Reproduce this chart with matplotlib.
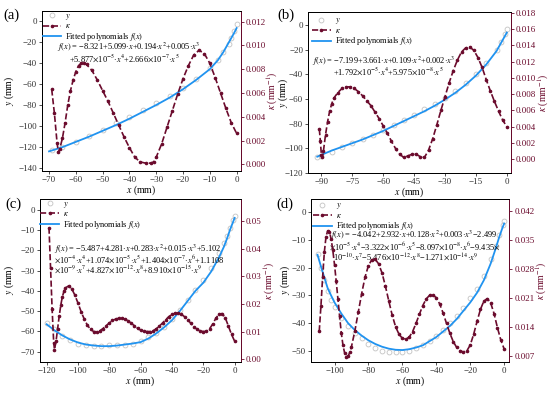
import matplotlib

matplotlib.use("Agg")
import matplotlib.pyplot as plt
from matplotlib.lines import Line2D
from matplotlib.ticker import FormatStrFormatter

plt.rcParams["font.family"] = ["Liberation Serif", "DejaVu Serif"]
plt.rcParams["mathtext.fontset"] = "stix"
plt.rcParams["font.size"] = 7
plt.rcParams["axes.linewidth"] = 0.7

KAPPA_COLOR = "#6b0b2d"
FIT_COLOR = "#2093f0"
DATA_COLOR = "#c2c2c2"

# ---- panel (a) ----
a_x = [-69, -65, -60, -55, -50, -45, -40, -35, -30, -25, -20, -15, -10, -7, -5, -3, -2, -1, 0]
a_y = [-123, -120, -115, -109.5, -103.5, -97.5, -91, -84.5, -78, -71, -63.5, -55, -44.5, -37, -30,
       -22, -16, -10, -3]
a_fit_x = [-70, -65, -60, -55, -50, -45, -40, -35, -30, -25, -20, -15, -10, -7, -5, -3, -1, 0]
a_fit_y = [-124, -120, -115, -110, -104.5, -99, -93, -86.5, -80, -73, -65, -56, -46, -37.5, -30,
           -21, -12, -7]
a_kx = [-69, -68, -67, -66.5, -66, -65, -64, -63, -62, -61, -60, -59, -58, -57, -56, -54, -52, -50,
        -48, -46, -44, -42, -40, -38, -36, -34, -32, -31, -30, -28, -26, -24, -22, -20, -18, -16,
        -14, -12, -10, -8, -6, -4, -2, 0]
a_k = [0.0063, 0.0043, 0.0018, 0.0010, 0.0013, 0.0022, 0.0035, 0.0050, 0.0062, 0.0071, 0.0078,
       0.0083, 0.0085, 0.0085, 0.0084, 0.0079, 0.0071, 0.0062, 0.0053, 0.0043, 0.0033, 0.0023,
       0.0014, 0.0006, 0.0002, 0.0001, 0.0001, 0.0002, 0.0006, 0.0017, 0.0031, 0.0045, 0.0059,
       0.0072, 0.0083, 0.0092, 0.0096, 0.0093, 0.0085, 0.0073, 0.0060, 0.0047, 0.0035, 0.0026]
a_formula = [
    r"$f(x)$ = −8.321+5.099$\cdot x$+0.194$\cdot x^2$+0.005$\cdot x^3$",
    r"+5.877$\times$10$^{-5}$$\cdot x^4$+2.666$\times$10$^{-7}$$\cdot x^5$",
]

# ---- panel (b) ----
b_x = [-92, -90, -85, -80, -75, -70, -65, -60, -55, -50, -45, -40, -35, -30, -25, -20, -15, -10,
       -5, -3, -1, 0]
b_y = [-107.5, -106.5, -103, -99.5, -96, -92.5, -89, -85, -81, -77, -73, -68.5, -64, -59, -53.5,
       -47, -40, -31, -20, -14, -7, -3]
b_fit_x = [-92, -90, -85, -80, -75, -70, -65, -60, -55, -50, -45, -40, -35, -30, -25, -20, -15,
           -10, -5, -2, 0]
b_fit_y = [-107, -105.5, -102, -99, -96, -93, -89.5, -86, -82, -78, -74, -70, -65.5, -60.5, -55,
           -48.5, -41, -32, -21, -12, -6]
b_kx = [-91, -90.5, -90, -89.5, -89, -88, -87, -86, -85, -84, -82, -80, -78, -76, -74, -72, -70,
        -68, -66, -64, -62, -60, -58, -56, -54, -52, -50, -48, -46, -44, -42, -40, -38, -36, -34,
        -32, -30, -28, -26, -24, -22, -20, -18, -16, -14, -12, -10, -8, -6, -4, -2, 0]
b_k = [0.0037, 0.0022, 0.0005, 0.0002, 0.0010, 0.0030, 0.0046, 0.0059, 0.0068, 0.0075, 0.0082,
       0.0087, 0.0089, 0.0089, 0.0087, 0.0083, 0.0078, 0.0072, 0.0066, 0.0058, 0.0050, 0.0041,
       0.0032, 0.0022, 0.0013, 0.0006, 0.0002, 0.0004, 0.0006, 0.0006, 0.0003, 0.0002, 0.0011,
       0.0025, 0.0042, 0.0060, 0.0077, 0.0094, 0.0109, 0.0122, 0.0132, 0.0137, 0.0138, 0.0134,
       0.0125, 0.0113, 0.0098, 0.0084, 0.0071, 0.0059, 0.0048, 0.0040]
b_formula = [
    r"$f(x)$ = −7.199+3.661$\cdot x$+0.109$\cdot x^2$+0.002$\cdot x^3$",
    r"+1.792$\times$10$^{-5}$$\cdot x^4$+5.975$\times$10$^{-8}$$\cdot x^5$",
]

# ---- panel (c) ----
c_x = [-120, -115, -110, -105, -100, -95, -90, -85, -80, -75, -70, -65, -60, -55, -50, -45, -40,
       -35, -30, -25, -20, -15, -10, -7, -5, -3, -1, 0]
c_y = [-56, -59, -62.5, -64.5, -66, -66.5, -67, -67, -66.5, -66.5, -66.5, -66, -65, -63, -61, -58,
       -54, -49.5, -44.5, -39.5, -34.5, -28.5, -21.5, -16.5, -13, -9, -5, -3]
c_fit_x = [-120, -115, -110, -105, -100, -95, -90, -85, -80, -75, -70, -65, -60, -55, -50, -45,
           -40, -35, -30, -25, -20, -15, -10, -7, -5, -3, -1, 0]
c_fit_y = [-56.5, -59.5, -62, -64, -65.5, -66.5, -67, -67.3, -67.3, -67, -66.5, -66, -65.3, -63.5,
           -61, -58, -54.5, -50, -45, -40, -36, -30.5, -23.5, -18.5, -14.5, -10, -6, -4]
c_kx = [-118.5, -117.5, -116.5, -115.5, -115, -114, -113, -112, -111, -110, -109, -108, -106, -104,
        -102, -100, -98, -96, -94, -92, -90, -88, -86, -84, -82, -80, -78, -76, -74, -72, -70, -68,
        -66, -64, -62, -60, -58, -56, -54, -52, -50, -48, -46, -44, -42, -40, -38, -36, -34, -32,
        -30, -28, -26, -24, -22, -20, -18, -16, -14, -12, -10, -8, -6, -4, -2, 0]
c_k = [0.0476, 0.033, 0.018, 0.006, 0.0035, 0.0065, 0.011, 0.0155, 0.0195, 0.0225, 0.0245, 0.0258,
       0.0265, 0.0255, 0.0232, 0.0203, 0.0172, 0.0145, 0.0123, 0.0108, 0.0100, 0.0099, 0.0103,
       0.0111, 0.0121, 0.0131, 0.0140, 0.0145, 0.0148, 0.0148, 0.0145, 0.0139, 0.0130, 0.0121,
       0.0112, 0.0105, 0.0101, 0.0100, 0.0100, 0.0103, 0.0110, 0.0120, 0.0131, 0.0143, 0.0154,
       0.0162, 0.0166, 0.0166, 0.0162, 0.0154, 0.0143, 0.0130, 0.0118, 0.0108, 0.0102, 0.0100,
       0.0101, 0.0110, 0.0127, 0.0148, 0.0163, 0.0165, 0.0150, 0.0120, 0.0090, 0.0065]
c_formula = [
    r"$f(x)$ = −5.487+4.281$\cdot x$+0.283$\cdot x^2$+0.015$\cdot x^3$+5.102",
    r"$\times$10$^{-4}$$\cdot x^4$+1.074$\times$10$^{-5}$$\cdot x^5$+1.404$\times$10$^{-7}$$\cdot x^6$+1.1108",
    r"$\times$10$^{-9}$$\cdot x^7$+4.827$\times$10$^{-12}$$\cdot x^8$+8.910$\times$10$^{-15}$$\cdot x^9$",
]

# ---- panel (d) ----
d_x = [-110, -108, -106, -104, -102, -100, -96, -92, -88, -84, -80, -76, -72, -68, -64, -60, -56,
       -52, -48, -44, -40, -36, -32, -28, -24, -20, -16, -12, -8, -5, -3, -1, 0]
d_y = [-15, -20, -24.5, -28.5, -31.5, -34, -38, -41, -43.5, -45.5, -47.5, -49, -50, -50.5, -50.5,
       -50.5, -50, -49, -48, -46.5, -44.5, -42.5, -40, -37.5, -34.5, -31, -27.5, -23, -17, -12, -8,
       -4.5, -3]
d_fit_x = [-110, -108, -106, -104, -102, -100, -96, -92, -88, -84, -80, -76, -72, -68, -64, -60,
           -56, -52, -48, -44, -40, -36, -32, -28, -24, -20, -16, -12, -8, -5, -3, -1, 0]
d_fit_y = [-15.3, -19.5, -23.5, -27.4, -30, -32.5, -36.5, -40, -42.5, -44.5, -46.2, -47.5, -48.5,
           -49.2, -49.6, -49.7, -49.4, -48.8, -48, -46.5, -45, -43, -41, -38.5, -35.5, -32.5, -29,
           -24.5, -18.5, -13, -9, -5.5, -4]
d_kx = [-109, -108, -107, -106, -105, -104, -103, -102, -101, -100, -99, -98, -97, -96, -95, -94,
        -93, -92, -91, -90, -88, -86, -84, -82, -80, -78, -76, -74, -72, -70, -68, -66, -64, -62,
        -60, -58, -56, -54, -52, -50, -48, -46, -44, -42, -40, -38, -36, -34, -32, -30, -28, -26,
        -24, -22, -20, -18, -16, -14, -12, -10, -8, -6, -4, -2, 0]
d_k = [0.0129, 0.019, 0.026, 0.032, 0.0358, 0.0372, 0.0370, 0.0352, 0.0325, 0.0290, 0.0250,
       0.0208, 0.0165, 0.0125, 0.0095, 0.0076, 0.0068, 0.0069, 0.0078, 0.0092, 0.0130, 0.0175,
       0.0220, 0.0260, 0.0288, 0.0302, 0.0303, 0.0292, 0.0270, 0.0238, 0.0202, 0.0168, 0.0140,
       0.0122, 0.0112, 0.0110, 0.0115, 0.0128, 0.0148, 0.0170, 0.0191, 0.0207, 0.0216, 0.0217,
       0.0210, 0.0195, 0.0173, 0.0148, 0.0124, 0.0104, 0.0090, 0.0082, 0.0079, 0.0082, 0.0096,
       0.0122, 0.0153, 0.0182, 0.0202, 0.0208, 0.0198, 0.0172, 0.0138, 0.0108, 0.0086]
d_formula = [
    r"$f(x)$ = −4.042+2.932$\cdot x$+0.128$\cdot x^2$+0.003$\cdot x^3$−2.499",
    r"$\times$10$^{-5}$$\cdot x^4$−3.322$\times$10$^{-6}$$\cdot x^5$−8.097$\times$10$^{-8}$$\cdot x^6$−9.435$\times$",
    r"10$^{-10}$$\cdot x^7$−5.476$\times$10$^{-12}$$\cdot x^8$−1.271$\times$10$^{-14}$$\cdot x^9$",
]


def draw_panel(fig, rect, label, label_pos, x, y, fit_x, fit_y, kx, k, xticks, yticks, kticks,
               xlim, ylim, klim, kfmt, formula, formula_x, formula_y, line_gap,
               ylabel_x, klabel_x, legend_pad):
    ax = fig.add_axes(rect)
    ax.plot(x, y, "o", ms=3.5, mfc="none", mec=DATA_COLOR, mew=0.6, zorder=2)
    ax.plot(fit_x, fit_y, color=FIT_COLOR, lw=1.3, zorder=3)
    ax.set_xlim(xlim)
    ax.set_ylim(ylim)
    ax.set_xticks(xticks)
    ax.set_yticks(yticks)
    ax.set_xlabel("$x$ (mm)", labelpad=0)
    ax.set_ylabel("$y$ (mm)")
    ax.yaxis.set_label_coords(ylabel_x, 0.5)
    ax.tick_params(length=2.5, width=0.6, pad=1, labelsize=6.5, colors="#333333")

    axk = ax.twinx()
    axk.plot(kx, k, color=KAPPA_COLOR, ls="--", lw=1.2, marker="o", ms=1.6, zorder=4)
    axk.set_ylim(klim)
    axk.set_yticks(kticks)
    axk.yaxis.set_major_formatter(FormatStrFormatter(kfmt))
    axk.set_ylabel(r"$\kappa$ (mm$^{-1}$)", color=KAPPA_COLOR)
    axk.yaxis.set_label_coords(klabel_x, 0.5)
    axk.tick_params(axis="y", length=2.5, width=0.6, pad=1, labelsize=6.5, colors=KAPPA_COLOR)
    axk.spines["right"].set_color(KAPPA_COLOR)

    handles = [
        Line2D([], [], ls="none", marker="o", ms=3.5, mfc="none", mec=DATA_COLOR, mew=0.6),
        Line2D([], [], color=KAPPA_COLOR, ls="--", lw=1.2, marker="o", ms=1.6),
        Line2D([], [], color=FIT_COLOR, lw=1.3),
    ]
    axk.legend(handles, ["$y$", r"$\kappa$", "Fitted polynomials $f(x)$"], loc="upper left",
               frameon=False, fontsize=6, handlelength=2.2, handletextpad=0.5,
               handleheight=0.5, labelspacing=0.05, borderaxespad=legend_pad, borderpad=0.1)

    for i, line in enumerate(formula):
        axk.text(formula_x[i], formula_y - i * line_gap, line, transform=ax.transAxes,
                 fontsize=6, va="center", ha="left")

    fig.text(label_pos[0], label_pos[1], label, fontsize=10.5, va="center", ha="left")


fig = plt.figure(figsize=(5.5, 3.93), dpi=100)

draw_panel(fig, [0.076, 0.565, 0.362, 0.407], "(a)", (0.006, 0.962),
           a_x, a_y, a_fit_x, a_fit_y, a_kx, a_k,
           range(-70, 1, 10), range(-140, 1, 20), [i * 0.002 for i in range(7)],
           (-72.7, 1.6), (-142.6, 9.2), (-0.00056, 0.0129), "%.3f",
           a_formula, [0.074, 0.136], 0.775, 0.069, -0.13, 1.123, 0.0)

draw_panel(fig, [0.560, 0.560, 0.369, 0.409], "(b)", (0.504, 0.962),
           b_x, b_y, b_fit_x, b_fit_y, b_kx, b_k,
           range(-90, 1, 15), range(-120, 1, 20), [i * 0.002 for i in range(10)],
           (-96.5, 2), (-120.2, 10.6), (-0.0017, 0.0181), "%.3f",
           b_formula, [0.018, 0.125], 0.694, 0.06, -0.091, 1.121, 0.4)

draw_panel(fig, [0.072, 0.079, 0.366, 0.415], "(c)", (0.010, 0.481),
           c_x, c_y, c_fit_x, c_fit_y, c_kx, c_k,
           range(-120, 1, 20), range(-70, 1, 10), [i * 0.01 for i in range(6)],
           (-124.5, 4), (-75.1, 5.4), (-0.001, 0.058), "%.2f",
           c_formula, [0.0695, 0.0725, 0.0725], 0.691, 0.0613, -0.117, 1.102, 0.0)

draw_panel(fig, [0.565, 0.079, 0.361, 0.415], "(d)", (0.503, 0.481),
           d_x, d_y, d_fit_x, d_fit_y, d_kx, d_k,
           range(-100, 1, 20), range(-50, 1, 10), [0.007 * i for i in range(1, 7)],
           (-114, 3), (-54, 4.9), (0.0055, 0.0449), "%.3f",
           d_formula, [0.096, 0.091, 0.112], 0.777, 0.0675, -0.0945, 1.125, 0.2)

fig.savefig("out.png", dpi=100)
